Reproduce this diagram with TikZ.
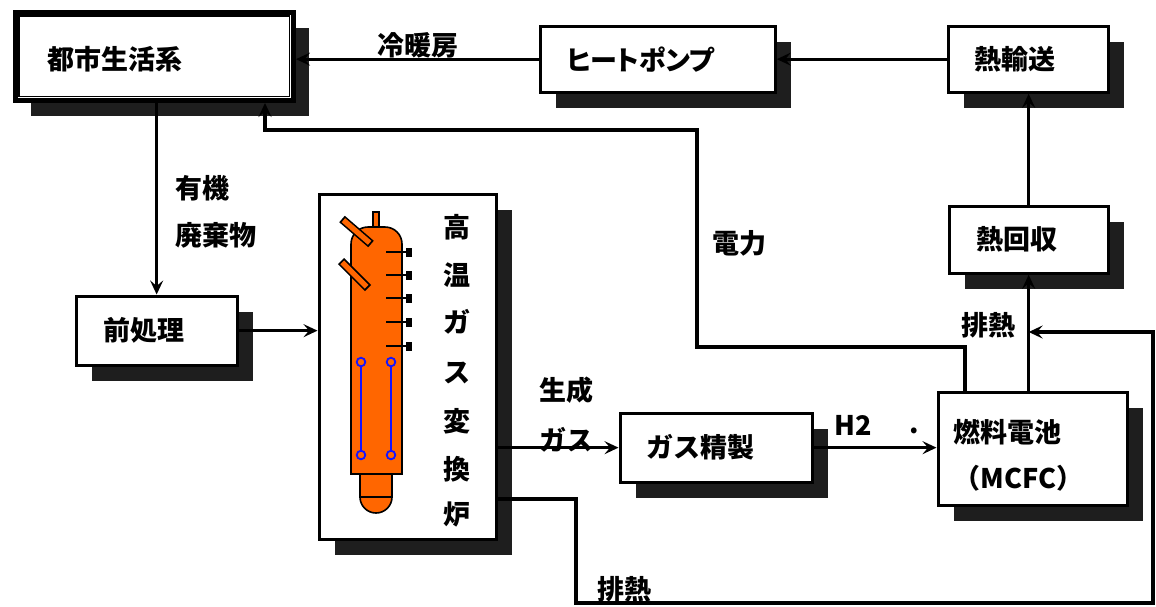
\documentclass[tikz,border=0pt]{standalone}
\usepackage{fontspec}
\setmainfont{Noto Sans CJK JP}
\usetikzlibrary{arrows.meta,shadows}
\definecolor{shade}{RGB}{30,30,30}
\definecolor{furnace}{RGB}{255,102,0}
\definecolor{probe}{RGB}{20,20,255}
\begin{document}
\begin{tikzpicture}[x=1pt,y=-1pt,
  every node/.style={font=\bfseries\fontsize{27}{31}\selectfont, inner sep=0pt},
  box/.style={draw, line width=3.3pt, fill=white, anchor=north west, align=left,
    inner ysep=0pt, drop shadow={shadow xshift=16pt, shadow yshift=-16pt, fill=shade, opacity=1}},
  arr/.style={line width=3.3pt, -{Stealth[length=14pt,width=13pt,inset=5.5pt]}},
  lbl/.style={anchor=west},
  nozzle/.style={line width=8.5pt, draw=black},
  nozzlefill/.style={line width=5.3pt, draw=furnace},
  pin/.style={line width=2.8pt},
  tube/.style={draw=probe, line width=2pt}]
\useasboundingbox (0,0) rectangle (1156,606);

% process boxes
\node[box, line width=5.5pt, minimum width=278pt, minimum height=88pt, text width=213pt, inner xsep=32.5pt] (city) at (12.5,9.5) {\raisebox{-3pt}[\height][\depth]{都市生活系}};
\draw[line width=1.3pt] ([shift={(6.5,6.5)}]city.north west) rectangle ([shift={(-6.5,-6.5)}]city.south east);
\node[box, minimum width=235pt, minimum height=66pt, text width=182pt, inner xsep=26.5pt] (hp) at (538.5,24.5) {\addfontfeature{RawFeature=+palt}ヒートポンプ};
\node[box, minimum width=160pt, minimum height=66pt, text width=107pt, inner xsep=26.5pt] (tr) at (946.5,24.5) {熱輸送};
\node[box, minimum width=159pt, minimum height=67pt, text width=104pt, inner xsep=27.5pt] (hr) at (947.5,204.5) {熱回収};
\node[box, minimum width=189pt, minimum height=113pt, text width=158pt, inner xsep=15.5pt, font=\bfseries\fontsize{27}{46}\selectfont] (fc) at (936.5,390.5)
  {\raisebox{-8pt}[\height][\depth]{\begin{tabular}{@{}l@{}}燃料電池\\（MCFC）\end{tabular}}};
\node[box, minimum width=192pt, minimum height=69pt, text width=139pt, inner xsep=26.5pt] (gp) at (618.5,411.5) {ガス精製};
\node[box, minimum width=161pt, minimum height=69pt, text width=106pt, inner xsep=27.5pt] (pre) at (74.5,294.5) {前処理};
\node[box, minimum width=177pt, minimum height=345pt] (fur) at (317.5,192.5) {};

% furnace vessel
\filldraw[fill=furnace, draw=black, line width=1.6pt] (360,474) -- (360,497) -- (392,497) -- (392,474) -- cycle;
\filldraw[fill=furnace, draw=black, line width=1.6pt] (360,497) arc[start angle=180, end angle=360, x radius=16pt, y radius=16pt] -- cycle;
\draw[line width=1.6pt, fill=furnace] (373,212) rectangle (379,236);
\filldraw[fill=furnace, draw=black, line width=1.6pt] (351,474) [rounded corners=17pt] -- (351,227) -- (402,227) [sharp corners] -- (402,474) -- cycle;
\draw[nozzle] (342,219) -- (371,244);
\draw[nozzlefill] (343.4,220.2) -- (369.6,242.8);
\draw[nozzle] (341,261) -- (368,288);
\draw[nozzlefill] (342.3,262.3) -- (366.7,286.7);
\foreach \yy in {252,275,298,322,346} {
  \draw[pin] (386,\yy) -- (408,\yy);
  \fill (406,\yy-4.5) rectangle (412,\yy+4.5);
}
\draw[tube] (361,362) -- (361,455);
\draw[tube] (391,362) -- (391,455);
\foreach \xx in {361,391} \foreach \yy in {362,455}
  \filldraw[fill=furnace, draw=probe, line width=1.8pt] (\xx,\yy) circle[radius=4.3pt];

% furnace title, set vertically
\foreach \ch/\yy [count=\i] in {高/227,温/275,ガ/322,ス/373,変/421,換/469,炉/514}
  \node (furtxt\i) at (457,\yy) {\ch};

% connectors
\draw[arr] (tr.west) -- (tr.west -| hp.east);
\draw[arr] (hp.west) -- (hp.west -| city.east);
\draw[arr] (hr.north) -- (hr.north |- tr.south);
\draw[arr] (fc.north -| hr.south) -- (hr.south);
\draw[arr] ([xshift=28.5pt]fc.north west) |- (697,347) |- (265,130) -- (city.south -| 265,0);
\draw[arr] (city.south -| pre.north) -- (pre.north);
\draw[arr] (pre.east) -- (pre.east -| fur.west);
\draw[arr] (gp.west -| fur.east) -- (gp.west);
\draw[arr] (gp.east) -- (gp.east -| fc.west);
\draw[arr] (fur.east |- 0,499) -| (576,603) -| (1153,332) -- (hr.south |- 0,332);

% flow labels
\node[lbl] (lcool) at (377,45) {冷暖房};
\node[lbl] (lorg) at (175,188) {有機};
\node[lbl] (lwaste) at (175,235) {廃棄物};
\node[lbl] (lpower) at (712,243) {電力};
\node[lbl] (lheat1) at (961,325) {排熱};
\node[lbl] (lgen1) at (539,390) {生成};
\node[lbl] (lgen2) at (539,440) {ガス};
\node[lbl] (lh2) at (834,425) {H2};
\node[lbl] (ldot) at (909,431) {.};
\node[lbl] (lheat2) at (597,589) {排熱};
\end{tikzpicture}
\end{document}
